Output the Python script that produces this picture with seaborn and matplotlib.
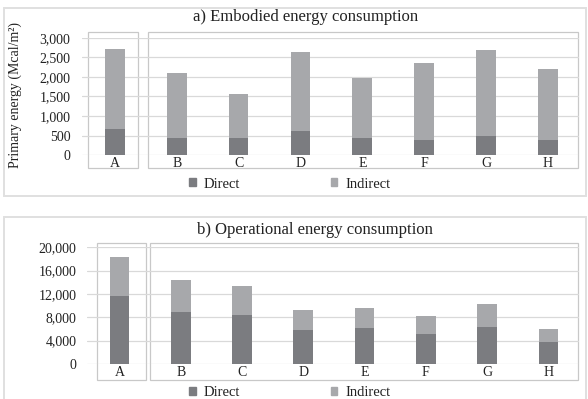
import matplotlib
matplotlib.use("Agg")
import matplotlib.pyplot as plt
from matplotlib.patches import Rectangle, Patch
import seaborn as sns

buildings = ["A", "B", "C", "D", "E", "F", "G", "H"]

# a) embodied energy (Mcal/m2)
emb_direct = [680, 440, 440, 630, 430, 400, 500, 380]
emb_total = [2720, 2100, 1570, 2630, 1960, 2360, 2680, 2190]

# b) operational energy (Mcal/m2)
op_direct = [11600, 8970, 8340, 5770, 6170, 5140, 6400, 3720]
op_total = [18390, 14340, 13310, 9200, 9650, 8170, 10230, 5940]

c_direct = "#7b7c80"
c_indirect = "#a7a8ab"
c_grid = "#d9d9d9"
c_box = "#c8c8c8"

sns.set_theme(style="white")
plt.rcParams["font.family"] = ["Liberation Serif", "DejaVu Serif"]

W, H = 588, 399
fig = plt.figure(figsize=(W / 100, H / 100), dpi=100)


def px_axes(left, right, y0, ytop):
    # y0 = pixel row of zero line, ytop = pixel row of top gridline
    return fig.add_axes([left / W, 1 - y0 / H, (right - left) / W, (y0 - ytop) / H])


def draw_panel(ax, direct, total, ymax, step, title, title_xy, box_a, box_b, ybox, leg_y, pad):
    sns.barplot(x=buildings, y=total, color=c_indirect, width=0.32, saturation=1,
                linewidth=0, ax=ax)
    sns.barplot(x=buildings, y=direct, color=c_direct, width=0.32, saturation=1,
                linewidth=0, ax=ax)
    ax.set_ylim(0, ymax)
    ax.set_xlim(-0.53, 7.5)
    ax.set_yticks(range(0, ymax + 1, step))
    ax.yaxis.set_major_formatter(matplotlib.ticker.StrMethodFormatter("{x:,.0f}"))
    ax.grid(axis="y", color=c_grid, lw=0.9)
    ax.set_axisbelow(True)
    for s in ax.spines.values():
        s.set_visible(False)
    ax.tick_params(axis="y", length=0, pad=pad, labelsize=10, labelcolor="#222222")
    ax.tick_params(axis="x", length=0, pad=1.5, labelsize=10, labelcolor="#222222")
    ax.set_xlabel("")
    for x0, x1 in (box_a, box_b):
        ax.add_patch(Rectangle((x0, ybox[0]), x1 - x0, ybox[1] - ybox[0], fill=False,
                               ec=c_box, lw=0.9, clip_on=False, zorder=0.5))
    fig.text(title_xy[0] / W, 1 - title_xy[1] / H, title, ha="center", va="center",
             fontsize=12, color="#222222")
    handles = [Patch(color=c_direct, label="Direct"), Patch(color=c_indirect, label="Indirect")]
    fig.legend(handles=handles, loc="center", bbox_to_anchor=(290 / W, 1 - leg_y / H),
               ncol=2, frameon=False, fontsize=10.5, handlelength=0.45, handleheight=0.45,
               handletextpad=0.55, columnspacing=6.2, labelcolor="#222222")


# panel frames
fig.add_artist(Rectangle((4 / W, 1 - 196 / H), 582 / W, 188 / H, transform=fig.transFigure,
                         fill=False, ec="#e0e0e0", lw=1.4))
fig.add_artist(Rectangle((4 / W, -0.02), 582 / W, 1 - 216.7 / H + 0.02, transform=fig.transFigure,
                         fill=False, ec="#e0e0e0", lw=1.4))

ax1 = px_axes(82, 579, 155.3, 37.7)
draw_panel(ax1, emb_direct, emb_total, 3000, 500, "a) Embodied energy consumption",
           (306, 17), (-0.436, 0.372), (0.533, 7.49), (-324, 3145), 184, 8.4)
fig.text(15 / W, 1 - 95 / H, "Primary energy (Mcal/m²)", rotation=90, ha="center",
         va="center", fontsize=10, color="#222222")

ax2 = px_axes(87, 579, 364, 247.3)
draw_panel(ax2, op_direct, op_total, 20000, 4000, "b) Operational energy consumption",
           (315, 230), (-0.37, 0.43), (0.497, 7.49), (-2742, 20685), 392.5, 7.5)

fig.savefig("out.png", dpi=100)
